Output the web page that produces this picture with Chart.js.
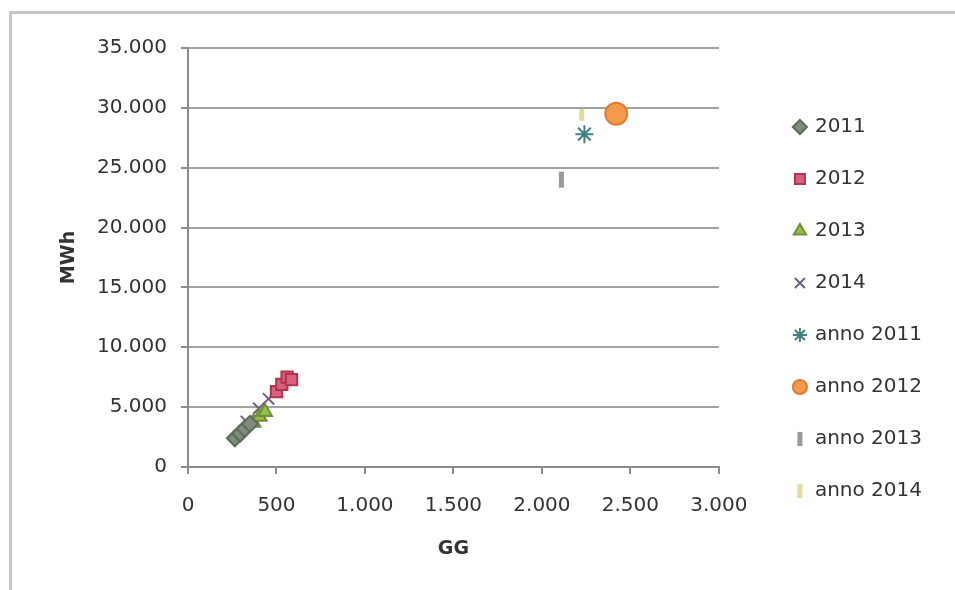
<!DOCTYPE html>
<html lang="it">
<head>
  <meta charset="UTF-8">
  <title>MWh / GG</title>
  <script src="https://cdn.jsdelivr.net/npm/chart.js"></script>
  <style>
    html, body { margin: 0; padding: 0; background: #fff; }
    #frame { position: absolute; left: 9px; top: 11px; width: 960px; height: 600px;
             border-left: 3px solid #c6c6c6; border-top: 3px solid #c6c6c6; }
    #wrap { position: absolute; left: 0; top: 0; width: 955px; height: 590px; }
  </style>
</head>
<body>
  <div id="frame"></div>
  <div id="wrap"><canvas id="grafico"></canvas></div>

  <script>
    // serie (GG, MWh)
    const serieNomi = ['2011', '2012', '2013', '2014', 'anno 2011', 'anno 2012', 'anno 2013', 'anno 2014'];
    const gg2011 = [265, 295, 320, 350];
    const mwh2011 = [2400, 2800, 3200, 3600];
    const gg2012 = [500, 530, 560, 585];
    const mwh2012 = [6300, 6900, 7500, 7300];
    const gg2013 = [370, 405, 435];
    const mwh2013 = [3700, 4200, 4600];
    const gg2014 = [330, 400, 455, 505];
    const mwh2014 = [3800, 4900, 5700, 6300];
    const ggAnno = [2240, 2420, 2110, 2225];
    const mwhAnno = [27800, 29500, 24000, 29400];

    const xTicks = [0, 500, 1000, 1500, 2000, 2500, 3000];
    const xTickLabels = ['0', '500', '1.000', '1.500', '2.000', '2.500', '3.000'];
    const yTicks = [0, 5000, 10000, 15000, 20000, 25000, 30000, 35000];
    const yTickLabels = ['0', '5.000', '10.000', '15.000', '20.000', '25.000', '30.000', '35.000'];

    const coppie = (xs, ys) => xs.map((x, i) => ({ x: x, y: ys[i] }));

    const stili = [
      { stile: 'rectRot', fondo: '#7f8b7b', bordo: '#5e6a5a', r: 8 },
      { stile: 'rect', fondo: '#d9607f', bordo: '#b0354f', r: 8 },
      { stile: 'triangle', fondo: '#93bf4a', bordo: '#6f8f3a', r: 8 },
      { stile: 'crossRot', fondo: '#6e5f86', bordo: '#6e5f86', r: 8 },
      { stile: 'star', fondo: '#3f7f80', bordo: '#3f7f80', r: 9 },
      { stile: 'circle', fondo: '#f39a4c', bordo: '#e07b34', r: 11 },
      { stile: 'line', fondo: '#9a9a9a', bordo: '#9a9a9a', r: 8 },
      { stile: 'line', fondo: '#e8e2a8', bordo: '#e3dc9a', r: 6 }
    ];

    const dati = [
      coppie(gg2011, mwh2011),
      coppie(gg2012, mwh2012),
      coppie(gg2013, mwh2013),
      coppie(gg2014, mwh2014),
      [{ x: ggAnno[0], y: mwhAnno[0] }],
      [{ x: ggAnno[1], y: mwhAnno[1] }],
      [{ x: ggAnno[2], y: mwhAnno[2] }],
      [{ x: ggAnno[3], y: mwhAnno[3] }]
    ];

    const datasets = serieNomi.map((nome, i) => ({
      label: nome,
      data: dati[i],
      pointStyle: stili[i].stile,
      backgroundColor: stili[i].fondo,
      borderColor: stili[i].bordo,
      borderWidth: stili[i].stile === 'line' ? 5 : 2,
      pointRadius: stili[i].r,
      pointHoverRadius: stili[i].r,
      rotation: stili[i].stile === 'line' ? 90 : 0
    }));

    const fontBase = { family: '"DejaVu Sans", Verdana, sans-serif', size: 20 };
    const fontTitolo = { family: fontBase.family, size: 19, weight: 'bold' };

    new Chart(document.getElementById('grafico'), {
      type: 'scatter',
      data: { datasets: datasets },
      options: {
        responsive: true,
        maintainAspectRatio: false,
        animation: false,
        layout: { padding: { left: 58, top: 48, right: 23, bottom: 20 } },
        plugins: {
          tooltip: { enabled: false },
          legend: {
            position: 'right',
            labels: {
              usePointStyle: true,
              boxWidth: 10,
              boxHeight: 10,
              padding: 32,
              color: '#333',
              font: fontBase
            }
          }
        },
        scales: {
          x: {
            type: 'linear',
            min: 0, max: 3000,
            afterBuildTicks: s => { s.ticks = xTicks.map(v => ({ value: v })); },
            afterFit: s => { s.height = 103; },
            ticks: {
              color: '#333', font: fontBase, padding: 20,
              callback: (v) => xTickLabels[xTicks.indexOf(v)]
            },
            grid: { color: 'rgba(0,0,0,0)', tickColor: '#8c8c8c', tickLength: 7, lineWidth: 2 },
            border: { color: '#8c8c8c', width: 2 },
            title: { display: true, text: 'GG', color: '#333', font: fontTitolo,
                     padding: { top: 4, bottom: 10 } }
          },
          y: {
            type: 'linear',
            min: 0, max: 35000,
            afterBuildTicks: s => { s.ticks = yTicks.map(v => ({ value: v })); },
            afterFit: s => { s.width = 130; },
            ticks: {
              color: '#333', font: fontBase, padding: 14,
              callback: (v) => yTickLabels[yTicks.indexOf(v)]
            },
            grid: { color: '#a3a3a3', tickColor: '#8c8c8c', tickLength: 7, lineWidth: 2 },
            border: { color: '#8c8c8c', width: 2 },
            title: { display: true, text: 'MWh', color: '#333', font: fontTitolo, padding: 0 }
          },
          // spazio vuoto tra area del grafico e legenda
          spazio: {
            type: 'linear',
            position: 'right',
            display: false,
            afterFit: s => { s.width = 44; }
          }
        }
      }
    });
  </script>
</body>
</html>
